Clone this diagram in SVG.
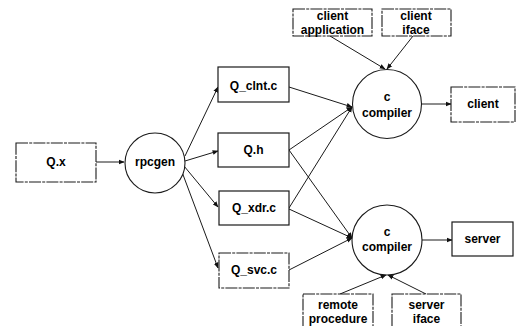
<svg xmlns="http://www.w3.org/2000/svg" width="519" height="326" viewBox="0 0 519 326">
<defs>
<marker id="ah" viewBox="0 0 10 10" refX="9" refY="5" markerWidth="6" markerHeight="6" orient="auto" markerUnits="userSpaceOnUse">
<path d="M0,1 L10,5 L0,9 z" fill="#111"/>
</marker>
<style>
.box{fill:#fff;stroke:#1a1a1a;stroke-width:1.2}
.dbox{fill:#fff;stroke:#1a1a1a;stroke-width:1.1;stroke-dasharray:12 1.2 3 1.2}
.circ{fill:#fff;stroke:#1a1a1a;stroke-width:1.1}
.t{font-family:"Liberation Sans",Arial,sans-serif;font-weight:bold;font-size:12px;fill:#000;text-anchor:middle;dominant-baseline:central}
.c{fill:none;stroke:#1a1a1a;stroke-width:1;marker-end:url(#ah)}
</style>
</defs>
<rect width="519" height="326" fill="#fff"/>
<g id="connectors">
<line class="c" x1="96" y1="162" x2="124" y2="162"/>
<line class="c" x1="185" y1="156" x2="218" y2="87"/>
<line class="c" x1="185" y1="161" x2="218" y2="151"/>
<line class="c" x1="184" y1="166" x2="218" y2="207"/>
<line class="c" x1="182" y1="172" x2="218" y2="268"/>
<line class="c" x1="289" y1="87" x2="352" y2="107"/>
<line class="c" x1="289" y1="150" x2="352" y2="107"/>
<line class="c" x1="289" y1="150" x2="352" y2="238"/>
<line class="c" x1="289" y1="208" x2="352" y2="107"/>
<line class="c" x1="289" y1="209" x2="352" y2="238"/>
<line class="c" x1="289" y1="270" x2="352" y2="238"/>
<line class="c" x1="330" y1="36" x2="385" y2="69"/>
<line class="c" x1="413" y1="36" x2="387" y2="69"/>
<line class="c" x1="421" y1="104" x2="451" y2="104"/>
<line class="c" x1="422" y1="240" x2="452" y2="240"/>
<line class="c" x1="340" y1="294" x2="386" y2="275"/>
<line class="c" x1="426" y1="294" x2="388" y2="275"/>
</g>
<g id="node-qx"><rect class="dbox" x="16" y="143" width="80" height="39"/><text class="t" x="56" y="162">Q.x</text></g>
<g id="node-rpcgen"><circle class="circ" cx="155" cy="163" r="30"/><text class="t" x="155" y="162">rpcgen</text></g>
<g id="node-qclnt"><rect class="box" x="218" y="67" width="71" height="35"/><text class="t" x="253.5" y="86">Q_clnt.c</text></g>
<g id="node-qh"><rect class="box" x="218" y="133" width="71" height="34"/><text class="t" x="253.5" y="150">Q.h</text></g>
<g id="node-qxdr"><rect class="box" x="219" y="191" width="70" height="34"/><text class="t" x="254" y="208">Q_xdr.c</text></g>
<g id="node-qsvc"><rect class="dbox" x="219" y="253" width="70" height="35"/><text class="t" x="254" y="270">Q_svc.c</text></g>
<g id="node-cc1"><circle class="circ" cx="387" cy="104" r="34.5"/><text class="t" x="387" y="97">c</text><text class="t" x="387" y="113">compiler</text></g>
<g id="node-cc2"><circle class="circ" cx="387" cy="240" r="35"/><text class="t" x="387" y="232">c</text><text class="t" x="387" y="247">compiler</text></g>
<g id="node-clientapp"><rect class="dbox" x="293" y="9" width="79" height="27"/><text class="t" x="332.5" y="16">client</text><text class="t" x="332.5" y="30">application</text></g>
<g id="node-clientiface"><rect class="dbox" x="382" y="9" width="69" height="27"/><text class="t" x="416" y="16">client</text><text class="t" x="416" y="30">iface</text></g>
<g id="node-client"><rect class="dbox" x="451" y="87" width="64" height="35"/><text class="t" x="483" y="104">client</text></g>
<g id="node-server"><rect class="box" x="452" y="222" width="61" height="34"/><text class="t" x="482.5" y="239">server</text></g>
<g id="node-remote"><rect class="dbox" x="303" y="294" width="70" height="34"/><text class="t" x="338" y="305">remote</text><text class="t" x="338" y="319">procedure</text></g>
<g id="node-serveriface"><rect class="dbox" x="392" y="294" width="69" height="34"/><text class="t" x="426.5" y="305">server</text><text class="t" x="426.5" y="319">iface</text></g>
</svg>
